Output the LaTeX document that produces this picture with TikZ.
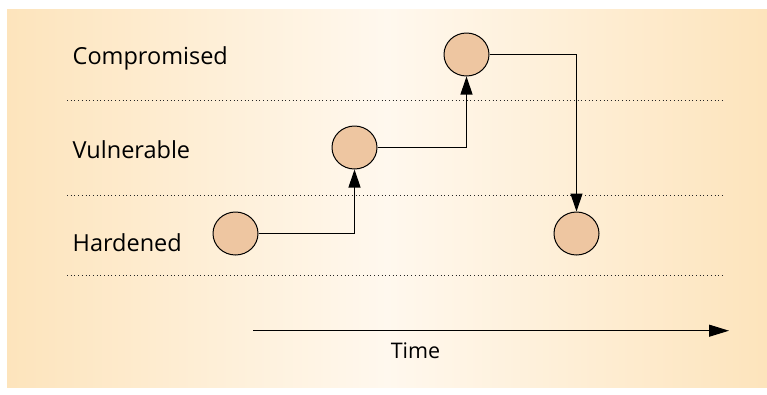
\documentclass[tikz,border=0pt]{standalone}
\usepackage{fontspec}
\setmainfont{Open Sans}
\usetikzlibrary{shapes.geometric,arrows.meta}
\definecolor{bgedge}{HTML}{FDE4BC}
\definecolor{bgmid}{HTML}{FFF8EE}
\definecolor{statefill}{HTML}{EEC6A1}
\tikzset{
  state/.style={ellipse,draw=black,line width=1pt,fill=statefill,minimum width=45pt,minimum height=43pt,inner sep=0pt},
  lvl/.style={anchor=base west,font=\fontsize{23.5}{26}\selectfont,inner sep=0pt},
  sep/.style={draw=black!85,line width=0.9pt,dash pattern=on 0.9pt off 2.8pt},
  trans/.style={draw=black,line width=1.1pt,-{Triangle[length=18pt,width=12pt]}},
}
\begin{document}
\begin{tikzpicture}[x=1pt,y=-1pt]
\useasboundingbox (0,0) rectangle (767,394);
\shade[left color=bgedge,right color=bgedge,middle color=bgmid] (7,9) rectangle (767,387);
% level separators
\draw[sep] (67,100.7) -- (722,100.7);
\draw[sep] (67,195) -- (722,195);
\draw[sep] (67,275) -- (722,275);
% labels
\node[lvl] (lc) at (72.5,64) {Compromised};
\node[lvl] (lv) at (72.5,158) {Vulnerable};
\node[lvl] (lh) at (72.5,251.5) {Hardened};
% states
\node[state] (s1) at (235.5,233.5) {};
\node[state] (s2) at (354.5,147.5) {};
\node[state] (s3) at (466.5,54.5) {};
\node[state] (s4) at (576.5,233.5) {};
\draw[trans] (s1.east) -| (s2.south);
\draw[trans] (s2.east) -| (s3.south);
\draw[trans] (s3.east) -| (s4.north);
% time axis
\coordinate (t0) at (253,330.7);
\coordinate (t1) at (729,330.7);
\draw[trans,-{Triangle[length=20pt,width=12pt]}] (t0) -- (t1);
\node[anchor=base,font=\fontsize{21.5}{24}\selectfont,inner sep=0pt] (time) at (415.5,358) {Time};
\end{tikzpicture}
\end{document}
